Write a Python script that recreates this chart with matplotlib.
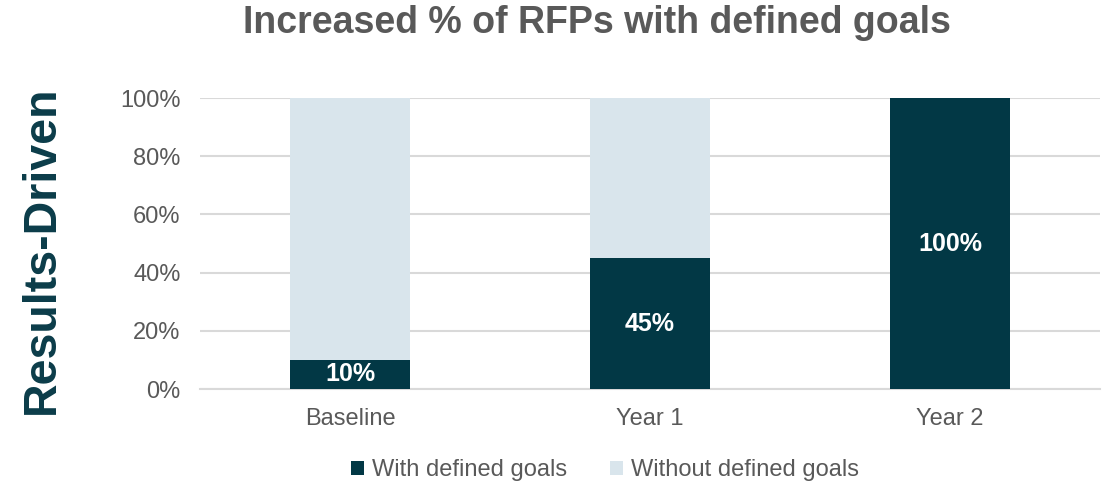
import matplotlib.pyplot as plt
import numpy as np

plt.rcParams['font.family'] = ['Liberation Sans', 'DejaVu Sans']

categories = ["Baseline", "Year 1", "Year 2"]
with_goals = [10, 45, 100]
without_goals = [90, 55, 0]
series_names = ["With defined goals", "Without defined goals"]
y_ticks = [0, 20, 40, 60, 80, 100]

dark = "#023845"
light = "#d9e5ec"
gray = "#595959"

fig = plt.figure(figsize=(11.12, 4.86), dpi=100)
ax = fig.add_axes([200 / 1112, 1 - 389 / 486, 900 / 1112, 291 / 486])

x = np.arange(len(categories))
b1 = ax.bar(x, with_goals, width=0.4, color=dark, label=series_names[0], zorder=3)
b2 = ax.bar(x, without_goals, width=0.4, bottom=with_goals, color=light,
            label=series_names[1], zorder=3)

for xi, v in zip(x, with_goals):
    ax.text(xi, v / 2, f"{v}%", ha="center", va="center", color="white",
            fontsize=18, fontweight="bold", zorder=4)

ax.set_xlim(-0.5, 2.5)
ax.set_ylim(0, 100)
ax.set_yticks(y_ticks)
ax.set_yticklabels([f"{t}%" for t in y_ticks])
ax.set_xticks(x)
ax.set_xticklabels(categories)
ax.tick_params(axis="both", length=0, labelsize=17, labelcolor=gray)
ax.tick_params(axis="y", pad=14)
ax.tick_params(axis="x", pad=14)
ax.yaxis.grid(True, color="#d9d9d9", linewidth=1.5, zorder=0)
for s in ["top", "right", "left"]:
    ax.spines[s].set_visible(False)
ax.spines["bottom"].set_color("#d9d9d9")
ax.spines["bottom"].set_linewidth(1.5)

fig.text(597 / 1112, 1 - 23 / 486, "Increased % of RFPs with defined goals",
         ha="center", va="center", fontsize=27, fontweight="bold", color=gray)

fig.text(42 / 1112, 1 - 250 / 486, "Results-Driven", rotation=90,
         ha="center", va="center", fontsize=33.5, fontweight="bold", color="#0b3c49")

fig.legend(handles=[b1, b2], labels=series_names, loc="center",
           bbox_to_anchor=(605 / 1112, 1 - 470 / 486), ncol=2, frameon=False,
           fontsize=17, handlelength=0.55, handleheight=0.55, handletextpad=0.35,
           columnspacing=1.8, labelcolor=gray)

fig.savefig("out.png", dpi=100)
